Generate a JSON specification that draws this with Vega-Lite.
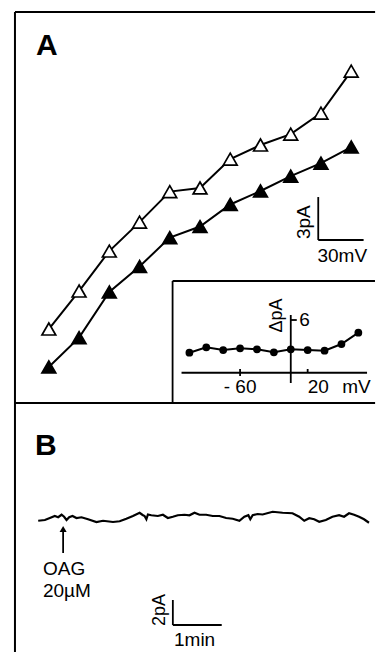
{
  "$schema": "https://vega.github.io/schema/vega-lite/v6.json",
  "width": 377,
  "height": 653,
  "autosize": {"type": "fit", "contains": "padding"},
  "padding": 0,
  "background": "white",
  "config": {"view": {"stroke": null}, "font": "Liberation Sans", "text": {"font": "Liberation Sans", "color": "black"}},
  "datasets": {
    "ivA": [
      {"V": -120, "I": -5.51, "series": "open"},
      {"V": -100, "I": -2.86, "series": "open"},
      {"V": -80, "I": -0.07, "series": "open"},
      {"V": -60, "I": 1.95, "series": "open"},
      {"V": -40, "I": 4.08, "series": "open"},
      {"V": -20, "I": 4.33, "series": "open"},
      {"V": 0, "I": 6.35, "series": "open"},
      {"V": 20, "I": 7.33, "series": "open"},
      {"V": 40, "I": 8.09, "series": "open"},
      {"V": 60, "I": 9.56, "series": "open"},
      {"V": 80, "I": 12.49, "series": "open"},
      {"V": -120, "I": -8.16, "series": "filled"},
      {"V": -100, "I": -6.11, "series": "filled"},
      {"V": -80, "I": -2.93, "series": "filled"},
      {"V": -60, "I": -1.15, "series": "filled"},
      {"V": -40, "I": 0.87, "series": "filled"},
      {"V": -20, "I": 1.64, "series": "filled"},
      {"V": 0, "I": 3.18, "series": "filled"},
      {"V": 20, "I": 4.12, "series": "filled"},
      {"V": 40, "I": 5.16, "series": "filled"},
      {"V": 60, "I": 6.07, "series": "filled"},
      {"V": 80, "I": 7.19, "series": "filled"}
    ],
    "frameA": [
      {"V": -142.4, "I": 16.61, "V2": -142.4, "I2": -28.05},
      {"V": -142.4, "I": 16.61, "V2": 95.8, "I2": 16.61},
      {"V": -142.4, "I": -10.68, "V2": 95.8, "I2": -10.68}
    ],
    "barA": [
      {"V": 58.2, "I": 3.7, "V2": 58.2, "I2": 0.7},
      {"V": 58.2, "I": 0.7, "V2": 88.2, "I2": 0.7}
    ],
    "inset": [
      {"V": -120, "dI": 1.64},
      {"V": -100, "dI": 2.36},
      {"V": -80, "dI": 2.0},
      {"V": -60, "dI": 2.23},
      {"V": -40, "dI": 2.09},
      {"V": -20, "dI": 1.69},
      {"V": 0, "dI": 2.09},
      {"V": 20, "dI": 2.0},
      {"V": 40, "dI": 1.91},
      {"V": 60, "dI": 2.8},
      {"V": 80, "dI": 4.31}
    ],
    "insetLines": [
      {"V": -139.9, "dI": 11.2, "V2": -139.9, "dI2": -5.07},
      {"V": -139.9, "dI": 11.2, "V2": 99.7, "dI2": 11.2},
      {"V": -129.3, "dI": -1.03, "V2": 90.3, "dI2": -1.03},
      {"V": 0, "dI": 6.67, "V2": 0, "dI2": -2.4},
      {"V": -60, "dI": -0.53, "V2": -60, "dI2": -1.47},
      {"V": 20, "dI": -0.53, "V2": 20, "dI2": -1.03},
      {"V": 0, "dI": 6, "V2": 7.1, "dI2": 6}
    ],
    "trace": [
      {"t": 0, "I": -0.06}, {"t": 8.2, "I": 0}, {"t": 14.3, "I": 0.16}, {"t": 20.4, "I": 0.32},
      {"t": 24.5, "I": 0.22}, {"t": 28.7, "I": 0.42}, {"t": 31.8, "I": 0.26}, {"t": 34.8, "I": 0},
      {"t": 38, "I": 0.22}, {"t": 42.1, "I": 0.32}, {"t": 47, "I": 0.16}, {"t": 53.1, "I": 0.22},
      {"t": 61.2, "I": 0.06}, {"t": 71.5, "I": -0.16}, {"t": 79.6, "I": -0.06}, {"t": 91.8, "I": -0.16},
      {"t": 100, "I": -0.1}, {"t": 108.2, "I": 0.1}, {"t": 116.3, "I": 0.32}, {"t": 124.5, "I": 0.58},
      {"t": 128.2, "I": 0.4}, {"t": 130.6, "I": 0.32}, {"t": 132.8, "I": 0.06}, {"t": 134.7, "I": 0.44},
      {"t": 138.8, "I": 0.38}, {"t": 146.9, "I": 0.32}, {"t": 153.1, "I": 0.42}, {"t": 159.2, "I": 0.16},
      {"t": 165.3, "I": 0.26}, {"t": 171.4, "I": 0.38}, {"t": 179.6, "I": 0.42}, {"t": 185.7, "I": 0.38},
      {"t": 191.9, "I": 0.58}, {"t": 198, "I": 0.42}, {"t": 206.2, "I": 0.42}, {"t": 214.3, "I": 0.32},
      {"t": 222.5, "I": 0.32}, {"t": 230.7, "I": 0.16}, {"t": 238.8, "I": 0.1}, {"t": 247, "I": -0.06},
      {"t": 253.1, "I": 0.26}, {"t": 258, "I": 0.38}, {"t": 260.4, "I": 0.06}, {"t": 263.3, "I": 0.38},
      {"t": 269.4, "I": 0.48}, {"t": 275.5, "I": 0.44}, {"t": 287.8, "I": 0.66}, {"t": 300, "I": 0.58},
      {"t": 312.2, "I": 0.54}, {"t": 320.4, "I": 0.26}, {"t": 326.6, "I": -0.06}, {"t": 332.7, "I": 0.14},
      {"t": 338.8, "I": 0.06}, {"t": 345, "I": -0.14}, {"t": 353.1, "I": 0}, {"t": 361.2, "I": 0.26},
      {"t": 369.4, "I": 0.38}, {"t": 375.5, "I": 0.26}, {"t": 381.6, "I": 0.54}, {"t": 387.8, "I": 0.42},
      {"t": 393.9, "I": 0.26}, {"t": 400, "I": 0.06}, {"t": 406.1, "I": -0.22}
    ],
    "linesB": [
      {"t": 30.6, "I": -0.9, "t2": 30.6, "I2": -2.64},
      {"t": 165.3, "I": -6.4, "t2": 165.3, "I2": -8.4},
      {"t": 165.3, "I": -8.4, "t2": 225.3, "I2": -8.4}
    ]
  },
  "resolve": {"scale": {"x": "independent", "y": "independent"}},
  "layer": [
    {
      "encoding": {
        "x": {"field": "V", "type": "quantitative", "scale": {"domain": [-152.3, 96.4], "nice": false, "zero": false}, "axis": null},
        "y": {"field": "I", "type": "quantitative", "scale": {"domain": [-28.12, 17.45], "nice": false, "zero": false}, "axis": null}
      },
      "layer": [
        {"data": {"name": "frameA"}, "mark": {"type": "rule", "strokeWidth": 2, "color": "black"},
         "encoding": {"x2": {"field": "V2"}, "y2": {"field": "I2"}}},
        {"data": {"name": "barA"}, "mark": {"type": "rule", "strokeWidth": 1.8, "color": "black"},
         "encoding": {"x2": {"field": "V2"}, "y2": {"field": "I2"}}},
        {"data": {"name": "ivA"}, "mark": {"type": "line", "strokeWidth": 2, "color": "black"},
         "encoding": {"detail": {"field": "series", "type": "nominal"}}},
        {"data": {"name": "ivA"}, "mark": {"type": "point", "shape": "triangle-up", "size": 190, "stroke": "black", "strokeWidth": 1.7, "opacity": 1, "filled": false},
         "encoding": {"fill": {"field": "series", "type": "nominal", "scale": {"domain": ["open", "filled"], "range": ["white", "black"]}, "legend": null}}},
        {"data": {"values": [{"V": -121.3, "I": 13.61, "label": "A"}]},
         "mark": {"type": "text", "fontSize": 30, "fontWeight": "bold", "align": "center", "baseline": "alphabetic"},
         "encoding": {"text": {"field": "label"}}},
        {"data": {"values": [{"V": 48.9, "I": 1.95, "label": "3pA"}]},
         "mark": {"type": "text", "fontSize": 19, "angle": 270, "align": "center", "baseline": "middle"},
         "encoding": {"text": {"field": "label"}}},
        {"data": {"values": [{"V": 74.1, "I": -0.42, "label": "30mV"}]},
         "mark": {"type": "text", "fontSize": 19, "align": "center", "baseline": "middle"},
         "encoding": {"text": {"field": "label"}}}
      ]
    },
    {
      "encoding": {
        "x": {"field": "V", "type": "quantitative", "scale": {"domain": [-344.2, 100.9], "nice": false, "zero": false}, "axis": null},
        "y": {"field": "dI", "type": "quantitative", "scale": {"domain": [-38.4, 48.67], "nice": false, "zero": false}, "axis": null}
      },
      "layer": [
        {"data": {"name": "insetLines"}, "mark": {"type": "rule", "strokeWidth": 1.8, "color": "black"},
         "encoding": {"x2": {"field": "V2"}, "y2": {"field": "dI2"}}},
        {"data": {"name": "inset"}, "mark": {"type": "line", "strokeWidth": 2, "color": "black"}},
        {"data": {"name": "inset"}, "mark": {"type": "point", "shape": "circle", "size": 60, "filled": true, "color": "black", "opacity": 1}},
        {"data": {"values": [{"V": -60, "dI": -3.73, "label": "- 60"}]},
         "mark": {"type": "text", "fontSize": 19, "align": "center", "baseline": "alphabetic"},
         "encoding": {"text": {"field": "label"}}},
        {"data": {"values": [{"V": 20, "dI": -3.73, "label": "20"}, {"V": 61, "dI": -3.73, "label": "mV"}]},
         "mark": {"type": "text", "fontSize": 19, "align": "left", "baseline": "alphabetic"},
         "encoding": {"text": {"field": "label"}}},
        {"data": {"values": [{"V": 10, "dI": 6, "label": "6"}]},
         "mark": {"type": "text", "fontSize": 19, "align": "left", "baseline": "middle"},
         "encoding": {"text": {"field": "label"}}},
        {"data": {"values": [{"V": -16.5, "dI": 6.6, "label": "ΔpA"}]},
         "mark": {"type": "text", "fontSize": 18, "angle": 270, "align": "center", "baseline": "middle"},
         "encoding": {"text": {"field": "label"}}}
      ]
    },
    {
      "encoding": {
        "x": {"field": "t", "type": "quantitative", "scale": {"domain": [-46.9, 414.7], "nice": false, "zero": false}, "axis": null},
        "y": {"field": "I", "type": "quantitative", "scale": {"domain": [-10.64, 41.6], "nice": false, "zero": false}, "axis": null}
      },
      "layer": [
        {"data": {"name": "trace"}, "mark": {"type": "line", "strokeWidth": 2.2, "color": "black"}},
        {"data": {"name": "linesB"}, "mark": {"type": "rule", "strokeWidth": 1.8, "color": "black"},
         "encoding": {"x2": {"field": "t2"}, "y2": {"field": "I2"}}},
        {"data": {"values": [{"t": 30.6, "I": -0.72}]},
         "mark": {"type": "point", "shape": "triangle-up", "size": 50, "filled": true, "color": "black", "opacity": 1}},
        {"data": {"values": [{"t": 5.8, "I": -4.4, "label": "OAG"}, {"t": 5.8, "I": -6.16, "label": "20µM"}]},
         "mark": {"type": "text", "fontSize": 19, "align": "left", "baseline": "alphabetic"},
         "encoding": {"text": {"field": "label"}}},
        {"data": {"values": [{"t": 149, "I": -7.2, "label": "2pA"}]},
         "mark": {"type": "text", "fontSize": 18, "angle": 270, "align": "center", "baseline": "middle"},
         "encoding": {"text": {"field": "label"}}},
        {"data": {"values": [{"t": 192, "I": -9.6, "label": "1min"}]},
         "mark": {"type": "text", "fontSize": 19, "align": "center", "baseline": "middle"},
         "encoding": {"text": {"field": "label"}}},
        {"data": {"values": [{"t": 9.4, "I": 5.2, "label": "B"}]},
         "mark": {"type": "text", "fontSize": 30, "fontWeight": "bold", "align": "center", "baseline": "alphabetic"},
         "encoding": {"text": {"field": "label"}}}
      ]
    }
  ]
}
